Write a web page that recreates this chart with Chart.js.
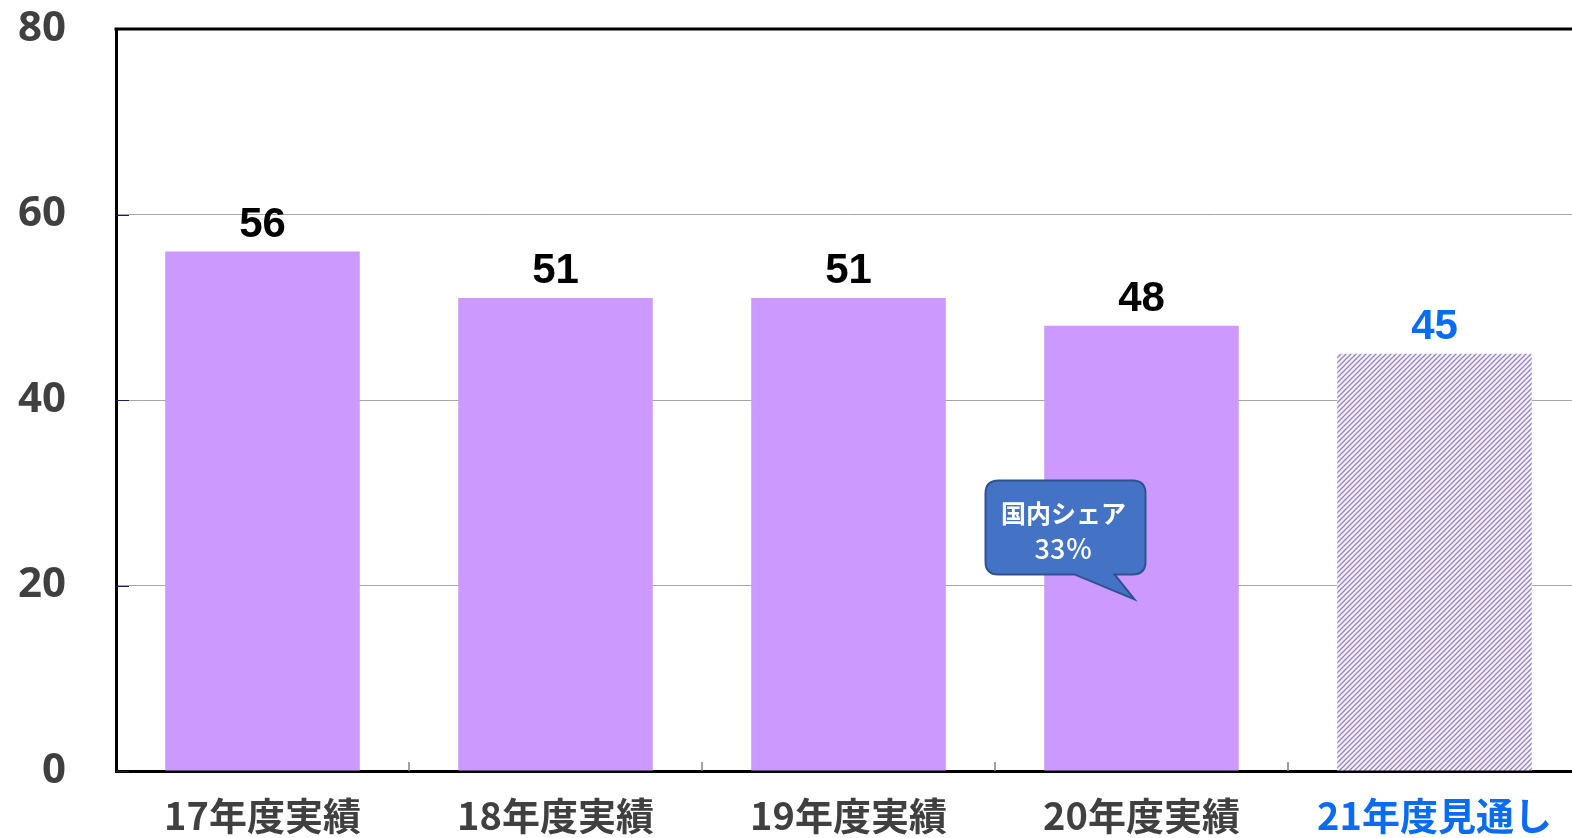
<!DOCTYPE html>
<html><head><meta charset="utf-8">
<style>html,body{margin:0;padding:0;overflow:hidden;background:#fff}canvas{display:block}</style>
<script src="https://cdn.jsdelivr.net/npm/chart.js@4/dist/chart.umd.min.js"></script>
</head><body>
<canvas id="c" width="1584" height="838"></canvas>
<script>
const categories = ['17年度実績','18年度実績','19年度実績','20年度実績','21年度見通し'];
const values = [56, 51, 51, 48, 45];
const yMin = 0, yMax = 80, yStep = 20;
const forecastIndex = 4;
const calloutLines = ['国内シェア', '33％'];
const calloutBarIndex = 3;
const calloutTipValue = 18.5;

function makeHatch(){
  const s = 5, c = document.createElement('canvas');
  c.width = s; c.height = s;
  const g = c.getContext('2d');
  g.fillStyle = '#f7f0ff'; g.fillRect(0,0,s,s);
  g.strokeStyle = '#9484cc'; g.lineWidth = 1.3;
  g.beginPath();
  g.moveTo(-1, s+1); g.lineTo(s+1, -1);
  g.moveTo(-1, 1); g.lineTo(1, -1);
  g.moveTo(s-1, s+1); g.lineTo(s+1, s-1);
  g.stroke();
  return g.createPattern(c, 'repeat');
}
const ctx0 = document.getElementById('c').getContext('2d');
const hatch = makeHatch();
const barColors = values.map((v,i)=> i===forecastIndex ? hatch : '#cc99ff');

const decor = {
  id:'decor',
  afterDatasetsDraw(chart){
    const {ctx, chartArea:a, scales:{x,y}} = chart;
    ctx.save();
    ctx.strokeStyle = '#1a1a6e'; ctx.lineWidth = 1;
    for(let v=yMin; v<=yMax; v+=yStep){
      const py = Math.round(y.getPixelForValue(v))+0.5;
      ctx.beginPath(); ctx.moveTo(a.left, py); ctx.lineTo(a.left+13, py); ctx.stroke();
    }
    ctx.strokeStyle = '#808080'; ctx.lineWidth = 1.5;
    for(let i=1;i<categories.length;i++){
      const px = (x.getPixelForValue(i-1)+x.getPixelForValue(i))/2;
      ctx.beginPath(); ctx.moveTo(px, a.bottom); ctx.lineTo(px, a.bottom-9); ctx.stroke();
    }
    ctx.strokeStyle = '#000'; ctx.lineWidth = 3;
    ctx.beginPath(); ctx.moveTo(a.left-1.5, a.top); ctx.lineTo(a.right+2, a.top); ctx.stroke();
    const meta = chart.getDatasetMeta(0);
    ctx.font = 'bold 42px "Liberation Sans", Arial, sans-serif';
    ctx.textAlign = 'center'; ctx.textBaseline = 'alphabetic';
    meta.data.forEach((bar,i)=>{
      ctx.fillStyle = i===forecastIndex ? '#0a6cf5' : '#000';
      ctx.fillText(String(values[i]), bar.x, bar.y-15);
    });
    const tipX = x.getPixelForValue(calloutBarIndex) - 7;
    const tipY = y.getPixelForValue(calloutTipValue);
    const L = tipX-149, R = tipX+11, T = tipY-119, B = tipY-25, r = 13;
    ctx.beginPath();
    ctx.moveTo(L+r, T);
    ctx.lineTo(R-r, T); ctx.quadraticCurveTo(R, T, R, T+r);
    ctx.lineTo(R, B-r); ctx.quadraticCurveTo(R, B, R-r, B);
    ctx.lineTo(tipX-20, B);
    ctx.lineTo(tipX, tipY);
    ctx.lineTo(tipX-60, B);
    ctx.lineTo(L+r, B); ctx.quadraticCurveTo(L, B, L, B-r);
    ctx.lineTo(L, T+r); ctx.quadraticCurveTo(L, T, L+r, T);
    ctx.closePath();
    ctx.fillStyle = '#4472c4'; ctx.fill();
    ctx.strokeStyle = '#2f528f'; ctx.lineWidth = 2; ctx.stroke();
    ctx.fillStyle = '#fff'; ctx.textBaseline = 'middle';
    const cx = (L+R)/2 - 2;
    ctx.font = 'bold 25px "Noto Sans CJK JP", sans-serif';
    ctx.fillText(calloutLines[0], cx, T+33);
    ctx.font = '500 27px "Noto Sans CJK JP", sans-serif';
    ctx.fillText(calloutLines[1], cx, T+68);
    ctx.restore();
  }
};

new Chart(ctx0, {
  type:'bar',
  data:{ labels: categories, datasets:[{ data: values, backgroundColor: barColors, borderWidth:0, barPercentage:0.664, categoryPercentage:1 }]},
  options:{
    responsive:false, animation:false, devicePixelRatio:1,
    layout:{ padding:{ top:29, right:3, left:0, bottom:0 } },
    plugins:{ legend:{display:false}, tooltip:{enabled:false} },
    scales:{
      x:{
        grid:{ display:false, drawTicks:false },
        border:{ display:true, color:'#000', width:3 },
        ticks:{ padding:22,
          color:(c)=> c.index===forecastIndex ? '#0a6cf5' : '#404040',
          font:(c)=> ({ family:'"Noto Sans CJK JP", sans-serif', size:38, weight:'bold' }) },
        afterFit(s){ s.height = 67; s.paddingLeft = 0; s.paddingRight = 0; s.paddingTop = 0; s.paddingBottom = 0; }
      },
      y:{
        min:yMin, max:yMax,
        grid:{ color:'#a6a6a6', lineWidth:1, drawTicks:false },
        border:{ display:true, color:'#000', width:3 },
        ticks:{ stepSize:yStep, padding:50, color:'#404040',
          font:{ family:'"Noto Sans", sans-serif', size:42, weight:'bold' } },
        afterFit(s){ s.width = 116; s.paddingTop = 0; s.paddingBottom = 0; s.paddingLeft = 0; s.paddingRight = 0; }
      }
    }
  },
  plugins:[decor]
});
</script>
</body></html>
